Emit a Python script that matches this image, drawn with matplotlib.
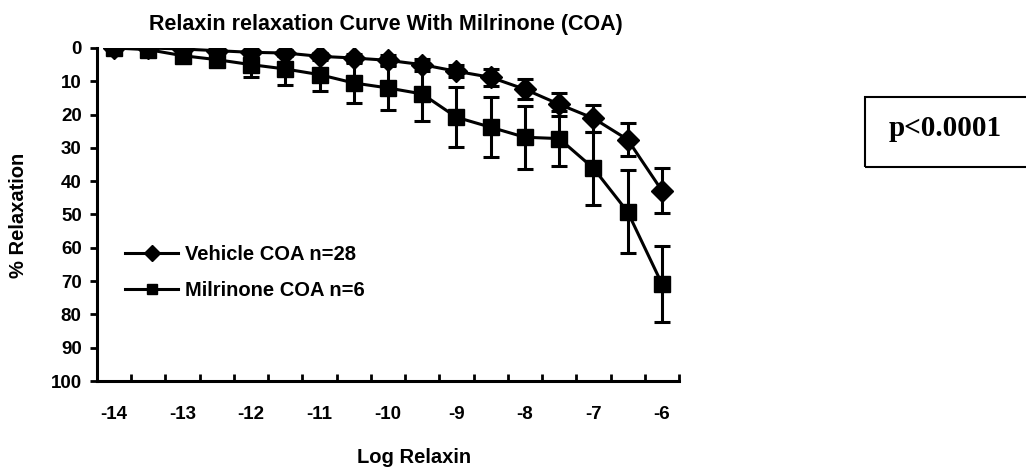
import matplotlib.pyplot as plt
from matplotlib.lines import Line2D
from matplotlib.patches import Rectangle

log_relaxin = [-14, -13.5, -13, -12.5, -12, -11.5, -11, -10.5, -10,
               -9.5, -9, -8.5, -8, -7.5, -7, -6.5, -6]

vehicle_mean = [0.0, 0.0, 0.3, 0.8, 1.3, 1.5, 2.5, 3.0, 3.7,
                5.0, 7.0, 8.8, 12.4, 16.9, 21.1, 27.5, 42.8]
vehicle_sem = [0.3, 0.3, 0.5, 0.5, 0.7, 0.8, 1.0, 1.2, 1.5,
               1.8, 1.8, 2.5, 3.0, 3.5, 4.0, 5.0, 6.7]

milrinone_mean = [0.0, 0.5, 2.3, 3.5, 5.0, 6.3, 8.0, 10.5, 12.0,
                  13.8, 20.8, 23.8, 26.8, 27.2, 36.1, 49.2, 70.8]
milrinone_sem = [0.5, 1.0, 1.5, 2.0, 3.8, 4.7, 4.9, 5.9, 6.6,
                 8.0, 9.0, 9.0, 9.4, 8.3, 11.0, 12.5, 11.4]

x_labels = [-14, -13, -12, -11, -10, -9, -8, -7, -6]

plt.rcParams["font.family"] = ["Liberation Sans", "DejaVu Sans"]
plt.rcParams["font.weight"] = "bold"
plt.rcParams["axes.unicode_minus"] = False

W, H = 1026, 473
fig = plt.figure(figsize=(W / 100, H / 100), dpi=100)
ax = fig.add_axes([97 / W, 1 - 381 / H, 582 / W, 333 / H])

ax.errorbar(log_relaxin, vehicle_mean, yerr=vehicle_sem, color="black",
            marker="D", markersize=11, linewidth=2.2, elinewidth=2.2,
            capsize=5.5, capthick=2.2, zorder=3)
ax.errorbar(log_relaxin, milrinone_mean, yerr=milrinone_sem, color="black",
            marker="s", markersize=12, linewidth=2.2, elinewidth=2.2,
            capsize=5.5, capthick=2.2, zorder=2)

ax.set_xlim(-14.25, -5.75)
ax.set_ylim(100, 0)
ax.set_yticks(range(0, 101, 10))
ax.set_xticks(x_labels)
# small ticks between the categories along the x axis
ax.set_xticks([-14.25 + 0.5 * i for i in range(18)], minor=True)
ax.tick_params(axis="x", which="major", length=0, pad=18, labelsize=13.5)
ax.tick_params(axis="x", which="minor", direction="in", length=5, width=2)
ax.tick_params(axis="y", direction="out", length=5, width=2, labelsize=13.5,
               pad=6)

for side in ("top", "right"):
    ax.spines[side].set_visible(False)
for side in ("left", "bottom"):
    ax.spines[side].set_linewidth(2.2)

fig.text(386 / W, 1 - 30 / H, "Relaxin relaxation Curve With Milrinone (COA)",
         fontsize=15.5, fontweight="bold", ha="center", va="baseline")
fig.text(414 / W, 1 - 463 / H, "Log Relaxin", fontsize=14.5,
         fontweight="bold", ha="center", va="baseline")
fig.text(19 / W, 1 - 215 / H, "% Relaxation", fontsize=14.5,
         fontweight="bold", rotation=90, ha="center", va="center")

handles = [
    Line2D([], [], color="black", marker="D", markersize=8, linewidth=2.2),
    Line2D([], [], color="black", marker="s", markersize=7, linewidth=2.2),
]
ax.legend(handles, ["Vehicle COA n=28", "Milrinone COA n=6"],
          loc="center left", bbox_to_anchor=(0.048, 0.325), frameon=False,
          fontsize=14.5, handlelength=2.65, handletextpad=0.35,
          labelspacing=0.85, borderpad=0, borderaxespad=0)

# p-value box to the right of the plot
fig.patches.append(Rectangle((865 / W, 1 - 167 / H), 0.16, 70 / H,
                             transform=fig.transFigure, fill=False,
                             edgecolor="black", linewidth=1.5))
fig.text(945 / W, 1 - 128 / H, "p<0.0001", fontsize=21,
         fontweight="bold", family="Liberation Serif", ha="center",
         va="center")

fig.savefig("out.png", dpi=100)
